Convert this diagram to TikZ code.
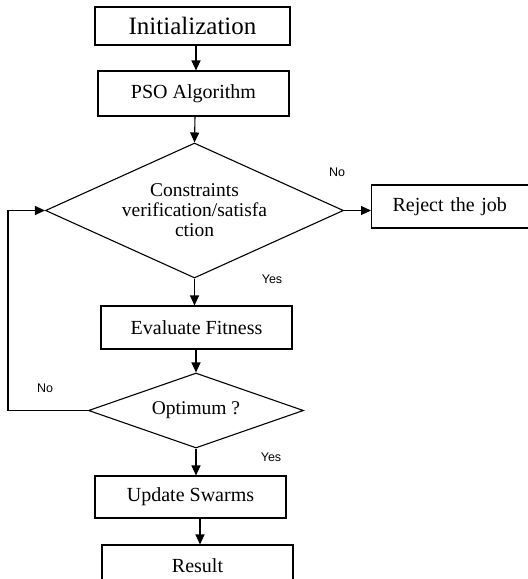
\documentclass[tikz,border=0pt]{standalone}
\usepackage{fontspec}
\setmainfont{Liberation Serif}
\newfontfamily\labelfont{Liberation Sans}
\usetikzlibrary{shapes.geometric,arrows.meta,calc}
\tikzset{
  box/.style={draw, line width=1.1pt, inner sep=0pt, font=\fontsize{20}{22}\selectfont},
  dia/.style={draw, diamond, aspect=2.2, inner sep=0pt, line width=1.1pt, font=\fontsize{19.5}{20}\selectfont, align=center},
  arr/.style={line width=1.1pt, -{Triangle[length=10pt,width=9pt]}},
  lab/.style={font=\labelfont\fontsize{12.5}{14}\selectfont, inner sep=0pt}
}
\begin{document}
\begin{tikzpicture}[x=1pt,y=-1pt]
\clip (0,0) rectangle (528,579);
\fill[white] (0,0) rectangle (528,579);
\node[box, minimum width=195pt, minimum height=38pt, font=\fontsize{25}{27}\selectfont] (init) at (192.5,26) {Initialization};
\node[box, minimum width=191pt, minimum height=45pt] (pso) at (193.5,93.5) {PSO Algorithm};
\node[dia, minimum width=298pt, minimum height=135pt] (d1) at (194.5,210.5) {Constraints\\verification/satisfa\\ction};
\node[box, anchor=west, minimum height=43pt, text width=170pt, inner xsep=21pt, align=left] (rej) at (371,206.5) {Reject the job};
\node[box, minimum width=191pt, minimum height=43pt] (ef) at (196.5,327.5) {Evaluate Fitness};
\node[dia, minimum width=215pt, minimum height=75pt] (d2) at (196,410.5) {Optimum ?};
\node[box, minimum width=191pt, minimum height=42pt] (us) at (190.5,497) {Update Swarms};
\node[box, minimum width=191pt, minimum height=42pt] (res) at (197.5,566) {Result};
\coordinate (loop) at (8,410.5);
\draw[arr] (init.south -| 196,0) -- (pso.north -| 196,0);
\draw[arr] (pso.south -| 195,0) -- (d1.north);
\draw[arr] (d1.east) -- (rej.west |- d1.east);
\draw[arr] (d1.south) -- (ef.north -| d1.south);
\draw[arr] (ef.south -| d2.north) -- (d2.north);
\draw[arr] (d2.south) -- (us.north -| d2.south);
\draw[arr] (us.south -| 200,0) -- (res.north -| 200,0);
\draw[arr] (d2.west) -- (loop) |- (d1.west);
\node[lab] (no1) at (337,172) {No};
\node[lab] (yes1) at (272,279) {Yes};
\node[lab] (no2) at (45,388) {No};
\node[lab] (yes2) at (271,457) {Yes};
\end{tikzpicture}
\end{document}
